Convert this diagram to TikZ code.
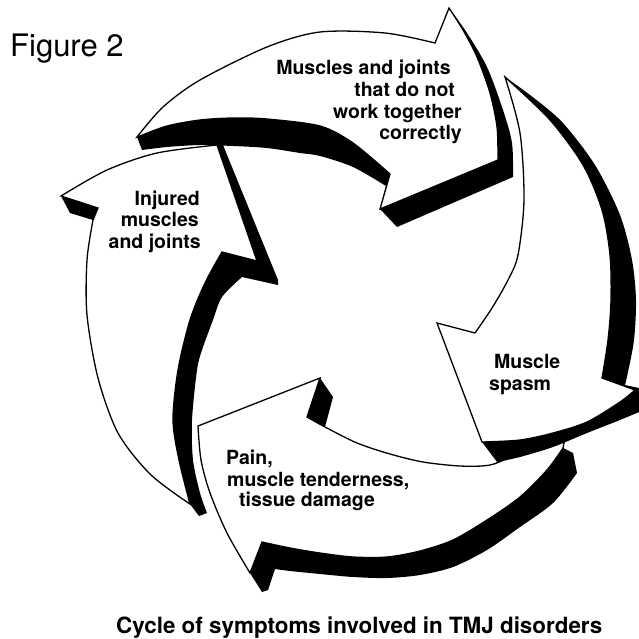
\documentclass[tikz,border=0pt]{standalone}
\usepackage{fontspec}
\setmainfont{TeX Gyre Heros}
\begin{document}
\begin{tikzpicture}[x=1pt,y=-1pt,
  face/.style={fill=white,draw=black,line width=1.3pt,line join=miter},
  side/.style={fill=black},
  lbl/.style={inner sep=0pt,font=\bfseries\fontsize{19.5}{21.5}\selectfont},
  captext/.style={inner sep=0pt,font=\bfseries\fontsize{22.4}{24}\selectfont}]
\useasboundingbox (0,0) rectangle (639,639);

% ---- bottom arrow (Pain ...)
\fill[side] (563,448) -- (573,453) -- (577,473) -- plot[smooth] coordinates {(577,473) (553,503) (520,527) (487,550) (453,567) (420,575) (387,578) (353,577) (320,574) (290,571) (275,569)} -- (268,590) -- (262,592) -- (250,573) -- (262,542) -- plot[smooth] coordinates {(262,542) (290,548) (320,553) (353,557) (387,557) (420,551) (453,540) (487,520) (520,497) (547,470) (563,448)} -- cycle;
\fill[side] (320,378) -- (333,397) -- (325,427) -- (307,417) -- cycle;
\path[face] (198,426) -- (320,378) -- (307,417) -- plot[smooth] coordinates {(307,417) (325,427) (357,443) (390,454) (423,462) (460,466) (490,465) (515,455) (545,443) (565,438)} -- (563,448) -- plot[smooth] coordinates {(563,448) (547,470) (520,497) (487,520) (453,540) (420,551) (387,557) (353,557) (320,553) (290,548) (262,542)} -- (250,573) -- plot[smooth] coordinates {(250,573) (227,533) (210,493) (201,460) (198,426)} -- cycle;

% ---- right arrow (Muscle spasm)
\fill[side] plot[smooth] coordinates {(505,77) (530,95) (562,122) (595,165) (620,215) (632,260) (636,300) (634,340) (628,372) (625,385)} -- (639,388) -- (639,412) -- plot[smooth] coordinates {(639,412) (620,420) (587,433) (553,447) (520,457) (497,462)} -- (482,442) -- (437,323) -- (475,333) -- plot[smooth] coordinates {(475,333) (492,308) (508,280) (518,255) (524,200) (520,133) (505,77)} -- cycle;
\path[face] plot[smooth] coordinates {(505,77) (550,120) (583,165) (602,210) (610,255) (611,300) (608,340) (602,378)} -- (635,390) -- plot[smooth] coordinates {(635,390) (620,402) (587,422) (553,433) (520,440) (482,442)} -- (437,323) -- (475,333) -- plot[smooth] coordinates {(475,333) (492,308) (508,280) (518,255) (524,200) (520,133) (505,77)} -- cycle;

% ---- top arrow (Muscles and joints ...)
\fill[side] (137,137) -- (142,150) -- plot[smooth] coordinates {(142,150) (167,147) (200,145) (233,146) (267,148) (300,153) (320,156) (353,167) (386,186)} -- (380,209) -- (397,227) -- (513,177) -- plot[smooth] coordinates {(513,177) (512,143) (503,110) (487,67) (467,33) (452,12)} -- (449,8) -- (435,43) -- (390,174) -- plot[smooth] coordinates {(390,174) (353,143) (320,126) (267,119) (233,118) (200,120) (167,126) (140,136)} -- cycle;
\path[face] plot[smooth] coordinates {(137,137) (163,107) (200,80) (267,47) (320,32) (385,33) (435,43)} -- (449,8) -- plot[smooth] coordinates {(449,8) (463,30) (477,57) (490,93) (497,127) (498,160)} -- (380,209) -- (390,174) -- plot[smooth] coordinates {(390,174) (353,143) (320,126) (267,119) (233,118) (200,120) (167,126) (140,136)} -- cycle;

% ---- left arrow (Injured muscles and joints)
\fill[side] (217,145) -- (223,145) -- (278,280) -- (278,285) -- (242,277) -- plot[smooth] coordinates {(242,277) (222,297) (213,320) (202,350) (197,370) (192,420) (193,460) (200,493) (207,513)} -- (199,516) -- (190,504) -- plot[smooth] coordinates {(190,504) (179,460) (173,420) (178,370) (190,320) (205,283) (222,252)} -- (257,261) -- cycle;
\fill[side] (61,196) -- (98,208) -- (93,220) -- (70,213) -- cycle;
\path[face] (217,145) -- (257,261) -- (222,252) -- plot[smooth] coordinates {(222,252) (205,283) (190,320) (178,370) (173,420) (179,460) (190,504)} -- plot[smooth] coordinates {(187,502) (150,474) (118,433) (98,378) (87,315) (87,260) (93,220)} -- (98,208) -- (61,196) -- plot[smooth] coordinates {(61,196) (107,170) (157,153) (217,145)} -- cycle;

% ---- texts
\node[inner sep=0pt,anchor=base west,font=\fontsize{31}{33}\selectfont] (fig) at (10,57) {Figure 2};

\node[lbl,anchor=base east] (t1) at (451,75) {Muscles and joints};
\node[lbl,anchor=base east] (t2) at (455,97) {that do not};
\node[lbl,anchor=base east] (t3) at (462,118.5) {work together};
\node[lbl,anchor=base east] (t4) at (462,140) {correctly};

\node[lbl,anchor=base east] (l1) at (200,205) {Injured};
\node[lbl,anchor=base east] (l2) at (199,226.5) {muscles};
\node[lbl,anchor=base east] (l3) at (201,248) {and joints};

\node[lbl,anchor=base west] (r1) at (494,368) {Muscle};
\node[lbl,anchor=base west] (r2) at (489,390) {spasm};

\node[lbl,anchor=base west] (b1) at (226,464) {Pain,};
\node[lbl,anchor=base west] (b2) at (227,486.5) {muscle tenderness,};
\node[lbl,anchor=base west] (b3) at (239,506.5) {tissue damage};

\node[captext,anchor=base west] (caption) at (116,633) {Cycle of symptoms involved in TMJ disorders};
\end{tikzpicture}
\end{document}
